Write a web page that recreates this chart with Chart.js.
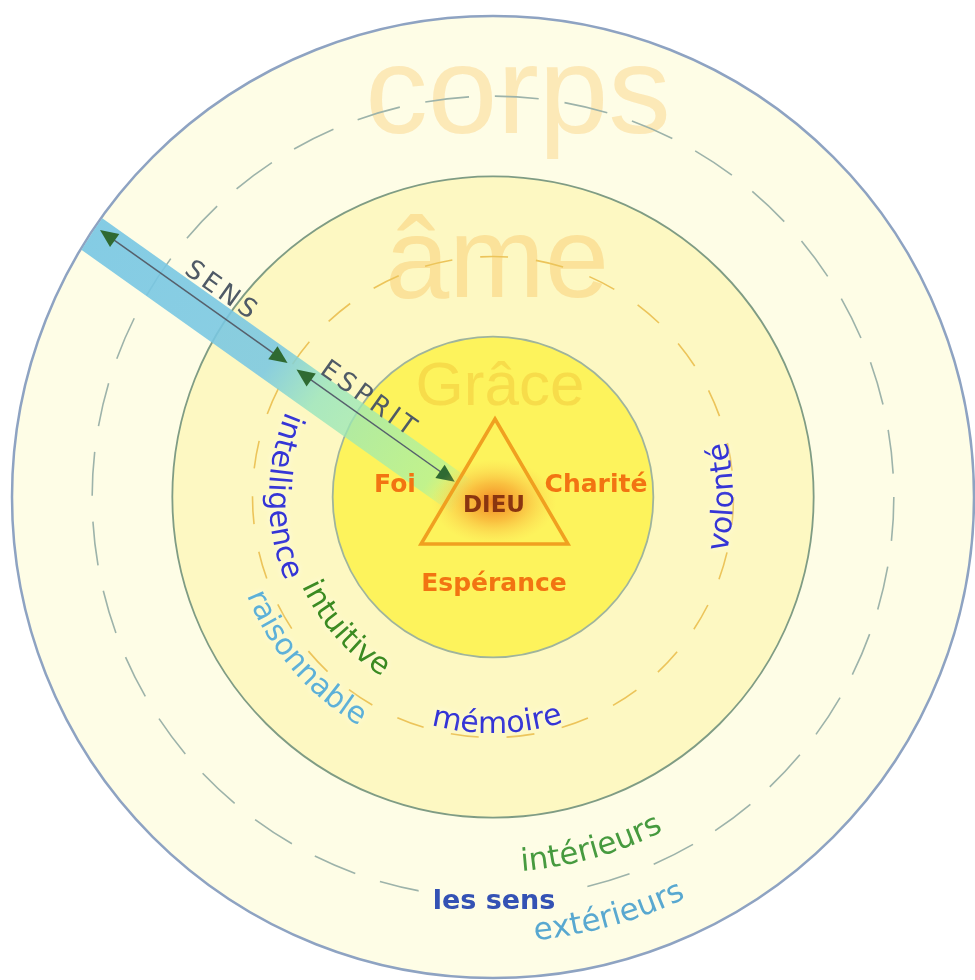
<!DOCTYPE html>
<html>
<head>
<meta charset="utf-8">
<script src="https://cdn.jsdelivr.net/npm/chart.js@4.4.0/dist/chart.umd.min.js"></script>
<style>
  html, body { margin: 0; padding: 0; background: #ffffff; }
  #wrap { width: 975px; height: 980px; position: relative; }
</style>
</head>
<body>
<div id="wrap"><canvas id="myChart"></canvas></div>
<script>
// les trois cercles, du plus grand au plus petit
var rings = ['corps', 'âme', 'Grâce'];
var ringWeights = [1, 1, 1];
var ringColors = ['#fefde6', '#fdf8c2', '#fdf35c'];
var ringStrokes = ['#8ea3c2', '#7f9c84', '#9fb49c'];

var vertus = ['Foi', 'Charité', 'Espérance'];
var dieu = 'DIEU';
var facultes = ['intelligence', 'mémoire', 'volonté'];
var modes = ['intuitive', 'raisonnable'];
var sens = ['intérieurs', 'les sens', 'extérieurs'];
var fleches = ['SENS', 'ESPRIT'];

// text bent along a circle, tops toward the center
function arcText(ctx, text, cx, cy, r, angDeg, font, color) {
    ctx.save();
    ctx.font = font;
    ctx.fillStyle = color;
    ctx.textAlign = 'center';
    ctx.textBaseline = 'alphabetic';
    ctx.shadowColor = 'rgba(255,255,235,0.95)';
    ctx.shadowBlur = 6;
    var total = ctx.measureText(text).width;
    var a = angDeg * Math.PI / 180 + total / (2 * r);
    for (var i = 0; i < text.length; i++) {
        var ch = text[i];
        var w = ctx.measureText(ch).width;
        var th = a - (w / 2) / r;
        ctx.save();
        ctx.translate(cx + r * Math.cos(th), cy + r * Math.sin(th));
        ctx.rotate(th - Math.PI / 2);
        ctx.fillText(ch, 0, 0);
        ctx.restore();
        a -= w / r;
    }
    ctx.restore();
}

var schema = {
    id: 'schema',
    afterDatasetsDraw: function(chart) {
        var ctx = chart.ctx;
        var outer = chart.getDatasetMeta(0).data[0];
        var middle = chart.getDatasetMeta(1).data[0];
        var inner = chart.getDatasetMeta(2).data[0];
        var cx = outer.x, cy = outer.y, R = outer.outerRadius;
        var s = R / 481;
        // reference picture coords -> canvas
        function X(px) { return cx + (px - 493) * s; }
        function Y(py) { return cy + (py - 497) * s; }

        // big pale ring names
        ctx.save();
        ctx.fillStyle = 'rgba(248,192,95,0.34)';
        ctx.textAlign = 'center';
        ctx.textBaseline = 'alphabetic';
        ctx.font = (125 * s) + 'px "Liberation Sans", Arial, sans-serif';
        ctx.fillText(rings[0], X(518), Y(133));
        ctx.fillStyle = 'rgba(248,190,90,0.38)';
        ctx.font = (115 * s) + 'px "Liberation Sans", Arial, sans-serif';
        ctx.fillText(rings[1], X(497), Y(297));
        ctx.fillStyle = 'rgba(238,188,50,0.42)';
        ctx.font = (62 * s) + 'px "Liberation Sans", Arial, sans-serif';
        ctx.fillText(rings[2], X(500), Y(405));
        ctx.restore();

        // dashed circles in the middle of the two outer rings
        ctx.save();
        ctx.lineWidth = 1.6;
        ctx.strokeStyle = '#9db3aa';
        ctx.setLineDash([44, 26]);
        ctx.beginPath();
        ctx.arc(cx, cy, (outer.innerRadius + outer.outerRadius) / 2, 0, Math.PI * 2);
        ctx.stroke();
        ctx.strokeStyle = '#ecc45a';
        ctx.setLineDash([28, 28]);
        ctx.beginPath();
        ctx.arc(cx, cy, (middle.innerRadius + middle.outerRadius) / 2, 0, Math.PI * 2);
        ctx.stroke();
        ctx.restore();

        // circle outlines
        var arcs = [outer, middle, inner];
        ctx.save();
        for (var i = 0; i < arcs.length; i++) {
            ctx.beginPath();
            ctx.arc(cx, cy, arcs[i].outerRadius, 0, Math.PI * 2);
            ctx.lineWidth = i === 0 ? 2.5 : 1.8;
            ctx.strokeStyle = ringStrokes[i];
            ctx.stroke();
        }
        ctx.restore();

        // the blue/green band of SENS and ESPRIT
        var ax = 100, ay = 230;
        var ux = 0.8154, uy = 0.5788;
        var nx = -uy, ny = ux;
        ctx.save();
        ctx.beginPath();
        ctx.arc(cx, cy, R - 1, 0, Math.PI * 2);
        ctx.clip();
        var off = 8, half = 19, t0 = -40, t1 = 452;
        var p0x = ax + ux * t0 + nx * off, p0y = ay + uy * t0 + ny * off;
        var p1x = ax + ux * t1 + nx * off, p1y = ay + uy * t1 + ny * off;
        var g = ctx.createLinearGradient(X(p0x), Y(p0y), X(p1x), Y(p1y));
        g.addColorStop(0, 'rgba(118,198,228,0.9)');
        g.addColorStop(0.52, 'rgba(122,200,226,0.88)');
        g.addColorStop(0.64, 'rgba(150,228,190,0.8)');
        g.addColorStop(0.92, 'rgba(168,242,160,0.7)');
        g.addColorStop(1, 'rgba(168,242,160,0)');
        ctx.fillStyle = g;
        ctx.beginPath();
        ctx.moveTo(X(p0x - nx * half), Y(p0y - ny * half));
        ctx.lineTo(X(p1x - nx * half), Y(p1y - ny * half));
        ctx.lineTo(X(p1x + nx * half), Y(p1y + ny * half));
        ctx.lineTo(X(p0x + nx * half), Y(p0y + ny * half));
        ctx.closePath();
        ctx.fill();
        ctx.restore();

        // arrows
        function pt(t) { return [ax + ux * t, ay + uy * t]; }
        function head(t, dir) {
            var p = pt(t), L = 18, W = 8;
            var bx = p[0] - ux * dir * L, by = p[1] - uy * dir * L;
            ctx.beginPath();
            ctx.moveTo(X(p[0]), Y(p[1]));
            ctx.lineTo(X(bx + nx * W), Y(by + ny * W));
            ctx.lineTo(X(bx - nx * W), Y(by - ny * W));
            ctx.closePath();
            ctx.fill();
        }
        var arrows = [[0, 230], [241, 435]];
        ctx.save();
        ctx.strokeStyle = '#56606c';
        ctx.lineWidth = 1.5;
        ctx.fillStyle = '#2f6a32';
        for (var k = 0; k < arrows.length; k++) {
            var a0 = pt(arrows[k][0] + 10), a1 = pt(arrows[k][1] - 10);
            ctx.beginPath();
            ctx.moveTo(X(a0[0]), Y(a0[1]));
            ctx.lineTo(X(a1[0]), Y(a1[1]));
            ctx.stroke();
            head(arrows[k][0], -1);
            head(arrows[k][1], 1);
        }
        ctx.restore();

        // SENS / ESPRIT labels along the arrow
        var lab = [[135, -20], [318, -17]];
        ctx.save();
        ctx.fillStyle = '#4f5a66';
        ctx.font = (26 * s) + 'px "DejaVu Sans", sans-serif';
        ctx.letterSpacing = (4 * s) + 'px';
        ctx.textAlign = 'center';
        ctx.textBaseline = 'middle';
        for (var m = 0; m < fleches.length; m++) {
            var q = pt(lab[m][0]);
            ctx.save();
            ctx.translate(X(q[0] + nx * lab[m][1]), Y(q[1] + ny * lab[m][1]));
            ctx.rotate(Math.atan2(uy, ux));
            ctx.fillText(fleches[m], 0, 0);
            ctx.restore();
        }
        ctx.restore();

        // glow behind DIEU
        ctx.save();
        ctx.translate(X(494), Y(502));
        ctx.scale(1.25, 0.85);
        var gl = ctx.createRadialGradient(0, 0, 0, 0, 0, 50 * s);
        gl.addColorStop(0, 'rgba(238,110,20,0.85)');
        gl.addColorStop(0.45, 'rgba(246,150,40,0.55)');
        gl.addColorStop(1, 'rgba(252,200,80,0)');
        ctx.fillStyle = gl;
        ctx.beginPath();
        ctx.arc(0, 0, 50 * s, 0, Math.PI * 2);
        ctx.fill();
        ctx.restore();

        // triangle
        ctx.save();
        ctx.strokeStyle = '#f0a020';
        ctx.lineWidth = 3.5 * s;
        ctx.lineJoin = 'miter';
        ctx.beginPath();
        ctx.moveTo(X(495), Y(419));
        ctx.lineTo(X(568), Y(544));
        ctx.lineTo(X(421), Y(544));
        ctx.closePath();
        ctx.stroke();
        ctx.restore();

        // DIEU and the three virtues
        ctx.save();
        ctx.textAlign = 'center';
        ctx.textBaseline = 'alphabetic';
        ctx.font = 'bold ' + (23 * s) + 'px "DejaVu Sans", sans-serif';
        ctx.fillStyle = '#8a3510';
        ctx.fillText(dieu, X(494), Y(512));
        ctx.font = 'bold ' + (25 * s) + 'px "DejaVu Sans", sans-serif';
        ctx.fillStyle = '#f27412';
        ctx.fillText(vertus[0], X(395), Y(492));
        ctx.fillText(vertus[1], X(596), Y(492));
        ctx.fillText(vertus[2], X(494), Y(591));
        ctx.restore();

        // faculties of the soul
        var f30 = (30 * s) + 'px "DejaVu Sans", sans-serif';
        var f31 = (31 * s) + 'px "DejaVu Sans", sans-serif';
        arcText(ctx, facultes[0], cx, cy, 224 * s, 180.3, f30, '#3434d6');
        arcText(ctx, facultes[1], cx, cy, 236 * s, 89, f30, '#3434d6');
        arcText(ctx, facultes[2], cx, cy, 240 * s, 0, f30, '#3434d6');
        arcText(ctx, modes[0], cx, cy, 211 * s, 138.4, f30, '#3a8a20');
        arcText(ctx, modes[1], cx, cy, 265 * s, 139.3, f30, '#5cb0d8');

        // the senses
        arcText(ctx, sens[0], cx, cy, 375 * s, 74.3, f31, '#469a3e');
        arcText(ctx, sens[2], cx, cy, 445 * s, 74.5, f31, '#58a8d0');
        ctx.save();
        ctx.font = 'bold ' + (27 * s) + 'px "DejaVu Sans", sans-serif';
        var w = ctx.measureText(sens[1]).width;
        ctx.fillStyle = ringColors[0];
        ctx.fillRect(X(494) - w / 2 - 14 * s, Y(888), w + 28 * s, 26 * s);
        ctx.fillStyle = '#3452b4';
        ctx.textAlign = 'center';
        ctx.textBaseline = 'middle';
        ctx.fillText(sens[1], X(494), Y(902));
        ctx.restore();
    }
};

var ctx = document.getElementById('myChart').getContext('2d');
var chart = new Chart(ctx, {
    type: 'pie',
    data: {
        labels: ['cercle'],
        datasets: rings.map(function(r, i) {
            return {
                label: r,
                data: [ringWeights[i]],
                backgroundColor: ringColors[i],
                borderWidth: 0,
                hoverOffset: 0
            };
        })
    },
    options: {
        responsive: true,
        maintainAspectRatio: false,
        animation: false,
        events: [],
        layout: { padding: { left: 12, right: 1, top: 16, bottom: 2 } },
        plugins: {
            legend: { display: false },
            tooltip: { enabled: false }
        }
    },
    plugins: [schema]
});
</script>
</body>
</html>
